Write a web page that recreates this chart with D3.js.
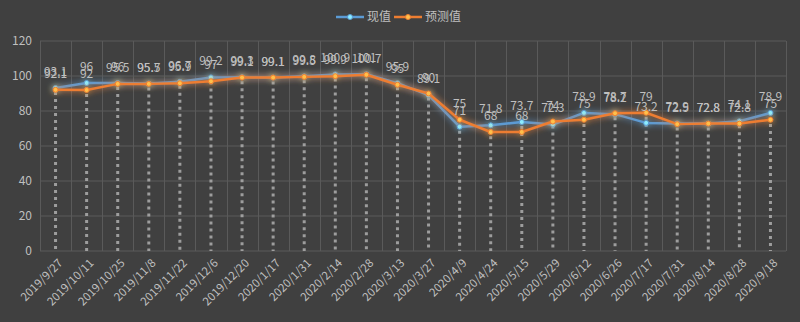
<!DOCTYPE html>
<html>
<head>
<meta charset="utf-8">
<script src="https://cdn.jsdelivr.net/npm/d3@7"></script>
<style>
  html, body { margin: 0; padding: 0; background: #404040; }
  svg { display: block; }
  text { font-family: "Noto Sans CJK SC", "Liberation Sans", sans-serif; }
</style>
</head>
<body>
<svg id="chart" width="800" height="322"></svg>
<script>
// Report dates (x categories)
const categories = [
  "2019/9/27", "2019/10/11", "2019/10/25", "2019/11/8", "2019/11/22", "2019/12/6",
  "2019/12/20", "2020/1/17", "2020/1/31", "2020/2/14", "2020/2/28", "2020/3/13",
  "2020/3/27", "2020/4/9", "2020/4/24", "2020/5/15", "2020/5/29", "2020/6/12",
  "2020/6/26", "2020/7/17", "2020/7/31", "2020/8/14", "2020/8/28", "2020/9/18"
];
// 现值 (actual)
const actualValues = [
  93.1, 96, 96, 95.7, 96.7, 99.2, 99.3, 99.1, 99.8, 100.9, 101, 95.9,
  89.1, 71, 71.8, 73.7, 72.3, 78.9, 78.2, 73.2, 72.9, 72.8, 74.1, 78.9
];
// 预测值 (forecast)
const forecastValues = [
  92.1, 92, 95.5, 95.5, 95.9, 97, 99.1, 99.1, 99.5, 99.9, 100.7, 95,
  90, 75, 68, 68, 74, 75, 78.7, 79, 72.5, 72.8, 72.8, 75
];
const yTicks = [0, 20, 40, 60, 80, 100, 120];
const seriesNames = ["现值", "预测值"];
const seriesColors = ["#5b9bd5", "#ed7d31"];

const svg = d3.select("#chart");
const W = 800, H = 322;
const margin = { left: 40, right: 14, top: 41, bottom: 71 };
const innerW = W - margin.left - margin.right;
const innerH = H - margin.top - margin.bottom;

const x = d3.scaleBand().domain(categories).range([margin.left, margin.left + innerW]);
const y = d3.scaleLinear().domain([0, 120]).range([margin.top + innerH, margin.top]);

const defs = svg.append("defs");
const glow = defs.append("filter").attr("id", "glow")
  .attr("x", "-10%").attr("y", "-50%").attr("width", "120%").attr("height", "200%");
glow.append("feGaussianBlur").attr("in", "SourceGraphic").attr("stdDeviation", 3).attr("result", "b");
const merge = glow.append("feMerge");
merge.append("feMergeNode").attr("in", "b");
merge.append("feMergeNode").attr("in", "SourceGraphic");

// horizontal gridlines
svg.append("g")
  .selectAll("line").data(yTicks).join("line")
  .attr("x1", margin.left).attr("x2", margin.left + innerW)
  .attr("y1", d => y(d)).attr("y2", d => y(d))
  .attr("stroke", "#5a5a5a").attr("stroke-width", 1);

// vertical gridlines at category boundaries
const bounds = categories.map(c => x(c)).concat([margin.left + innerW]);
svg.append("g")
  .selectAll("line").data(bounds).join("line")
  .attr("x1", d => Math.round(d) + 0.5).attr("x2", d => Math.round(d) + 0.5)
  .attr("y1", y(120)).attr("y2", y(0))
  .attr("stroke", "#5a5a5a").attr("stroke-width", 1);

// y axis labels
const yAxis = d3.axisLeft(y).tickValues(yTicks).tickSize(0).tickPadding(8);
const gy = svg.append("g").attr("transform", `translate(${margin.left},0)`).call(yAxis);
gy.select(".domain").remove();
gy.selectAll("text").attr("fill", "#bfbfbf").attr("font-size", 12)
  .attr("font-family", "'Liberation Sans', sans-serif");

// x axis labels, rotated
const xAxis = d3.axisBottom(x).tickSize(0).tickPadding(0);
const gx = svg.append("g").attr("transform", `translate(0,${y(0)})`).call(xAxis);
gx.select(".domain").remove();
gx.selectAll("text")
  .attr("fill", "#bfbfbf").attr("font-size", 11.5)
  .attr("font-family", "'Liberation Sans', sans-serif")
  .attr("text-anchor", "end")
  .attr("dy", "0.35em")
  .attr("transform", "translate(5,10) rotate(-45)");

const cx = c => x(c) + x.bandwidth() / 2;

// drop lines from the upper point to the axis
svg.append("g")
  .selectAll("line").data(categories).join("line")
  .attr("x1", cx).attr("x2", cx)
  .attr("y1", (c, i) => y(Math.max(actualValues[i], forecastValues[i])) + 4)
  .attr("y2", y(0))
  .attr("stroke", "#b4b4b4").attr("stroke-opacity", 0.8)
  .attr("stroke-width", 3).attr("stroke-dasharray", "3,4");

const seriesData = [actualValues, forecastValues];
const line = d3.line().x((d, i) => cx(categories[i])).y(d => y(d));

seriesData.forEach((vals, s) => {
  const g = svg.append("g").attr("filter", "url(#glow)");
  g.append("path").datum(vals)
    .attr("d", line).attr("fill", "none")
    .attr("stroke", seriesColors[s]).attr("stroke-width", 2.5)
    .attr("stroke-linejoin", "round");
  g.selectAll("circle").data(vals).join("circle")
    .attr("cx", (d, i) => cx(categories[i])).attr("cy", d => y(d))
    .attr("r", 2.5)
    .attr("fill", d3.color(seriesColors[s]).brighter(1.2))
    .attr("stroke", seriesColors[s]).attr("stroke-width", 1);
});

// value labels above each point
seriesData.forEach((vals, s) => {
  svg.append("g")
    .selectAll("text").data(vals).join("text")
    .attr("x", (d, i) => cx(categories[i]))
    .attr("y", d => y(d) - 12)
    .attr("text-anchor", "middle")
    .attr("fill", "#bfbfbf").attr("font-size", 12)
    .attr("font-family", "'Liberation Sans', sans-serif")
    .text(d => d);
});

// legend
const legend = svg.append("g");
const items = [
  { name: seriesNames[0], color: seriesColors[0], x: 336 },
  { name: seriesNames[1], color: seriesColors[1], x: 394 }
];
items.forEach(it => {
  legend.append("line")
    .attr("x1", it.x).attr("x2", it.x + 28).attr("y1", 17).attr("y2", 17)
    .attr("stroke", it.color).attr("stroke-width", 2.5);
  legend.append("circle").attr("cx", it.x + 14).attr("cy", 17).attr("r", 2.5)
    .attr("fill", d3.color(it.color).brighter(1.2)).attr("stroke", it.color);
  legend.append("text").attr("x", it.x + 31).attr("y", 21)
    .attr("fill", "#bfbfbf").attr("font-size", 12).text(it.name);
});
</script>
</body>
</html>
